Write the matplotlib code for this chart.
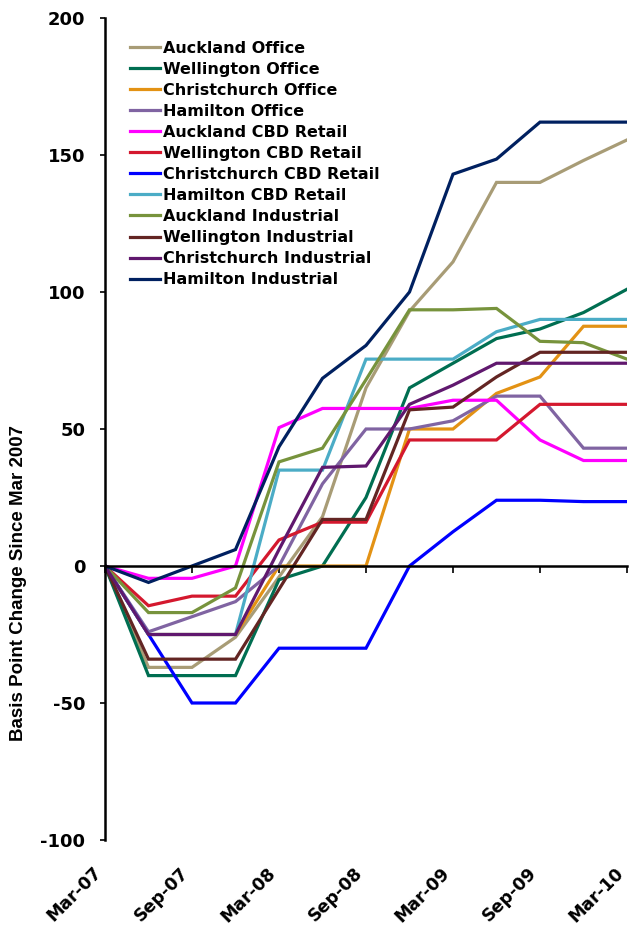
import numpy as np
import matplotlib
matplotlib.use('Agg')
import matplotlib.pyplot as plt

# quarterly observations, Mar-07 .. Mar-10
quarters = ['Mar-07', 'Jun-07', 'Sep-07', 'Dec-07', 'Mar-08', 'Jun-08', 'Sep-08',
            'Dec-08', 'Mar-09', 'Jun-09', 'Sep-09', 'Dec-09', 'Mar-10']
tick_labels = quarters[::2]

auckland_office = [0, -37, -37, -26, -4, 18, 65, 93, 111, 140, 140, 148, 155.5]
wellington_office = [0, -40, -40, -40, -5, 0, 25, 65, 74, 83, 86.5, 92.5, 101]
christchurch_office = [0, -25, -25, -25, 0, 0, 0, 50, 50, 63, 69, 87.5, 87.5]
hamilton_office = [0, -24, -18.5, -13, 0, 30, 50, 50, 53, 62, 62, 43, 43]
auckland_cbd_retail = [0, -4.5, -4.5, 0, 50.5, 57.5, 57.5, 57.5, 60.5, 60.5, 46, 38.5, 38.5]
wellington_cbd_retail = [0, -14.5, -11, -11, 9.5, 16, 16, 46, 46, 46, 59, 59, 59]
christchurch_cbd_retail = [0, -25, -50, -50, -30, -30, -30, 0, 12.5, 24, 24, 23.5, 23.5]
hamilton_cbd_retail = [0, -25, -25, -25, 35, 35, 75.5, 75.5, 75.5, 85.5, 90, 90, 90]
auckland_industrial = [0, -17, -17, -8, 38, 43, 68, 93.5, 93.5, 94, 82, 81.5, 75.5]
wellington_industrial = [0, -34, -34, -34, -8.5, 17, 17, 57, 58, 69, 78, 78, 78]
christchurch_industrial = [0, -25, -25, -25, 6, 36, 36.5, 59, 66, 74, 74, 74, 74]
hamilton_industrial = [0, -6, 0, 6, 43.5, 68.5, 80.5, 100, 143, 148.5, 162, 162, 162]

series = [
    ('Auckland Office', auckland_office, '#A89C76'),
    ('Wellington Office', wellington_office, '#006E51'),
    ('Christchurch Office', christchurch_office, '#E39214'),
    ('Hamilton Office', hamilton_office, '#8064A2'),
    ('Auckland CBD Retail', auckland_cbd_retail, '#FF00FF'),
    ('Wellington CBD Retail', wellington_cbd_retail, '#D4182E'),
    ('Christchurch CBD Retail', christchurch_cbd_retail, '#0000FF'),
    ('Hamilton CBD Retail', hamilton_cbd_retail, '#4BACC6'),
    ('Auckland Industrial', auckland_industrial, '#77933C'),
    ('Wellington Industrial', wellington_industrial, '#632523'),
    ('Christchurch Industrial', christchurch_industrial, '#60186E'),
    ('Hamilton Industrial', hamilton_industrial, '#002060'),
]

plt.rcParams['font.family'] = ['DejaVu Sans']
plt.rcParams['font.weight'] = 'bold'
plt.rcParams['axes.unicode_minus'] = False

fig = plt.figure(figsize=(6.31, 9.31), dpi=100)
ax = fig.add_axes([105 / 631, 91 / 931, 522 / 631, 822 / 931])

x = np.arange(len(quarters))
for name, vals, col in series:
    ax.plot(x, vals, color=col, lw=2.3, label=name, solid_joinstyle='miter')

ax.set_xlim(0, 12)
ax.set_ylim(-100, 200)
ax.set_yticks(np.arange(-100, 201, 50))
ax.tick_params(axis='y', direction='out', length=3.6, width=1.2, labelsize=13, pad=10.5)
for lbl in ax.get_yticklabels():
    lbl.set_fontweight('bold')

# zero line acts as the category axis
for s in ['top', 'right']:
    ax.spines[s].set_visible(False)
ax.spines['left'].set_linewidth(1.8)
ax.spines['bottom'].set_position(('data', 0))
ax.spines['bottom'].set_linewidth(1.8)
ax.set_xticks(x[::2])
ax.tick_params(axis='x', direction='out', length=5, width=1.2, labelbottom=False)

# date labels sit below the plot area
sec = ax.secondary_xaxis('bottom')
sec.spines['bottom'].set_visible(False)
sec.set_xticks(x[::2])
sec.set_xticklabels(tick_labels, rotation=45, ha='right', fontsize=12.5, fontweight='bold')
sec.tick_params(axis='x', length=0, pad=17)

ax.set_ylabel('Basis Point Change Since Mar 2007', fontsize=13.5, fontweight='bold',
              family=['Liberation Sans', 'DejaVu Sans'])
ax.yaxis.set_label_coords(-0.150, 0.313)

ax.legend(loc='upper left', bbox_to_anchor=(0.047, 0.9726), frameon=False,
          prop={'size': 11.5, 'weight': 'bold'}, handlelength=1.9, handletextpad=0.2,
          labelspacing=0.38, borderpad=0, borderaxespad=0)

fig.savefig('out.png', dpi=100)
